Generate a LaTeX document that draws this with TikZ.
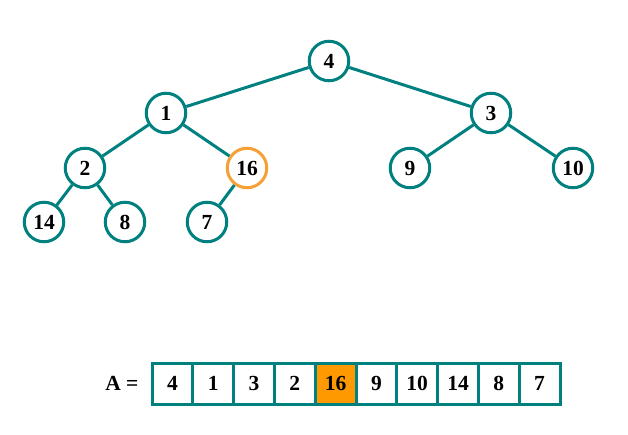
\documentclass[tikz,border=0pt]{standalone}
\usepackage{fontspec}
\setmainfont{Liberation Serif}
\usetikzlibrary{positioning}
\definecolor{tealx}{HTML}{00807F}
\definecolor{ambx}{HTML}{F7A035}
\definecolor{orgx}{HTML}{FF9900}

\begin{document}
\begin{tikzpicture}[
  x=1pt, y=-1pt,
  node distance=0pt,
  font=\fontsize{21.5}{24}\selectfont\bfseries,
  vtx/.style={circle, draw=tealx, line width=3pt, fill=white, minimum size=39.5pt, inner sep=0pt},
  hot/.style={vtx, draw=ambx},
  cell/.style={rectangle, draw=tealx, line width=3pt, minimum width=40.8pt, minimum height=41pt, inner sep=0pt, outer sep=0pt},
  edge/.style={line width=3pt, draw=tealx},
]
\useasboundingbox (0,0) rectangle (628,435);

% tree
\node[vtx] (n4)  at (329,61)  {4};
\node[vtx] (n1)  at (166,113) {1};
\node[vtx] (n3)  at (491,113) {3};
\node[vtx] (n2)  at (85,168)  {2};
\node[hot] (n16) at (247,168) {16};
\node[vtx] (n9)  at (410,168) {9};
\node[vtx] (n10) at (573,168) {10};
\node[vtx] (n14) at (44,222)  {14};
\node[vtx] (n8)  at (125,222) {8};
\node[vtx] (n7)  at (207,222) {7};

\draw[edge] (n4) -- (n1);
\draw[edge] (n4) -- (n3);
\draw[edge] (n1) -- (n2);
\draw[edge] (n1) -- (n16);
\draw[edge] (n3) -- (n9);
\draw[edge] (n3) -- (n10);
\draw[edge] (n2) -- (n14);
\draw[edge] (n2) -- (n8);
\draw[edge] (n16) -- (n7);

% array
\node[cell] (a1) at (172.4,383.5) {4};
\node[cell, right=of a1] (a2) {1};
\node[cell, right=of a2] (a3) {3};
\node[cell, right=of a3] (a4) {2};
\node[cell, right=of a4, fill=orgx] (a5) {16};
\node[cell, right=of a5] (a6) {9};
\node[cell, right=of a6] (a7) {10};
\node[cell, right=of a7] (a8) {14};
\node[cell, right=of a8] (a9) {8};
\node[cell, right=of a9] (a10) {7};
\node[left=10pt of a1] (lbl) {A =};
\end{tikzpicture}
\end{document}
